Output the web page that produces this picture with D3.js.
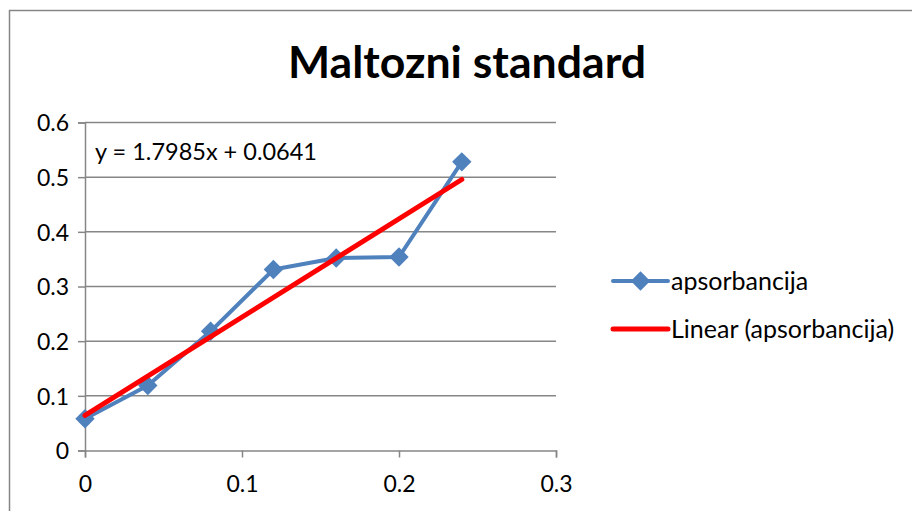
<!DOCTYPE html>
<html>
<head>
<meta charset="utf-8">
<script src="https://cdn.jsdelivr.net/npm/d3@7"></script>
<style>
  body { margin: 0; background: #ffffff; }
  text { font-family: Lato, "Open Sans", sans-serif; }
</style>
</head>
<body>
<div id="chart"></div>
<script>
//data
var concentration = [0, 0.04, 0.08, 0.12, 0.16, 0.2, 0.24];
var absorbance = [0.058, 0.119, 0.218, 0.331, 0.352, 0.354, 0.528];
var xTicks = [0, 0.1, 0.2, 0.3];
var yTicks = [0, 0.1, 0.2, 0.3, 0.4, 0.5, 0.6];
var trendSlope = 1.7985;
var trendIntercept = 0.0641;
var legendLabels = ["apsorbancija", "Linear (apsorbancija)"];

//colors
var blueColor = "#4F81BD";
var redColor = "#FF0000";
var gridColor = "#868686";

var w = 912;
var h = 511;

var svg = d3.select("#chart")
            .append("svg")
            .attr("width", w)
            .attr("height", h);

//outer chart border
svg.append("rect")
    .attr("x", 9.5)
    .attr("y", 10.5)
    .attr("width", 1000)
    .attr("height", 1000)
    .attr("fill", "#ffffff")
    .attr("stroke", "#868686")
    .attr("stroke-width", 1.5);

//title
svg.append("text")
    .attr("x", 467)
    .attr("y", 78)
    .attr("text-anchor", "middle")
    .attr("font-size", 44)
    .attr("font-weight", "bold")
    .attr("fill", "#000")
    .attr("textLength", 358)
    .attr("lengthAdjust", "spacingAndGlyphs")
    .text("Maltozni standard");

var x = d3.scaleLinear().domain([0, 0.3]).range([85, 556]);
var y = d3.scaleLinear().domain([0, 0.6]).range([450.5, 122.5]);

//horizontal gridlines
svg.append("g")
    .selectAll("line")
    .data(yTicks.filter(function(d) { return d > 0; }))
    .enter()
    .append("line")
    .attr("x1", x(0))
    .attr("x2", x(0.3))
    .attr("y1", function(d) { return y(d); })
    .attr("y2", function(d) { return y(d); })
    .attr("stroke", gridColor)
    .attr("stroke-width", 1.5);

//axes
var fmt = function(d) { return String(+d.toFixed(1)); };
var xAxis = svg.append("g")
    .attr("transform", "translate(0," + y(0) + ")")
    .call(d3.axisBottom(x).tickValues(xTicks).tickSize(7).tickPadding(18).tickFormat(fmt));
var yAxis = svg.append("g")
    .attr("transform", "translate(" + x(0) + ",0)")
    .call(d3.axisLeft(y).tickValues(yTicks).tickSize(7).tickPadding(9).tickFormat(fmt));

[xAxis, yAxis].forEach(function(ax) {
    ax.select(".domain").attr("stroke", gridColor).attr("stroke-width", 1.5);
    ax.selectAll(".tick line").attr("stroke", gridColor).attr("stroke-width", 1.5);
    ax.selectAll("text")
        .attr("font-family", "Lato, sans-serif")
        .attr("font-size", 23)
        .attr("fill", "#000");
});
yAxis.selectAll("text").attr("dy", "0.36em");

var points = concentration.map(function(c, i) { return [c, absorbance[i]]; });

//data series
var line = d3.line()
    .x(function(d) { return x(d[0]); })
    .y(function(d) { return y(d[1]); });

svg.append("path")
    .datum(points)
    .attr("d", line)
    .attr("fill", "none")
    .attr("stroke", blueColor)
    .attr("stroke-width", 4)
    .attr("stroke-linejoin", "round");

var diamond = d3.symbol().type(d3.symbolDiamond2).size(240);

svg.append("g")
    .selectAll("path")
    .data(points)
    .enter()
    .append("path")
    .attr("d", diamond)
    .attr("transform", function(d) { return "translate(" + x(d[0]) + "," + y(d[1]) + ")"; })
    .attr("fill", blueColor);

//linear trendline
var xMin = d3.min(concentration);
var xMax = d3.max(concentration);
svg.append("line")
    .attr("x1", x(xMin))
    .attr("y1", y(trendIntercept + trendSlope * xMin))
    .attr("x2", x(xMax))
    .attr("y2", y(trendIntercept + trendSlope * xMax))
    .attr("stroke", redColor)
    .attr("stroke-width", 5)
    .attr("stroke-linecap", "round");

//trendline equation
svg.append("text")
    .attr("x", 95)
    .attr("y", 160)
    .attr("font-size", 23.5)
    .attr("fill", "#000")
    .text("y = " + trendSlope + "x + " + trendIntercept);

//legend
var legend = svg.append("g").attr("transform", "translate(613,281)");

legend.append("line")
    .attr("x1", 0).attr("x2", 55)
    .attr("y1", 0).attr("y2", 0)
    .attr("stroke", blueColor)
    .attr("stroke-width", 4)
    .attr("stroke-linecap", "round");
legend.append("path")
    .attr("d", diamond)
    .attr("transform", "translate(27.5,0)")
    .attr("fill", blueColor);
legend.append("line")
    .attr("x1", 0).attr("x2", 55)
    .attr("y1", 48).attr("y2", 48)
    .attr("stroke", redColor)
    .attr("stroke-width", 5)
    .attr("stroke-linecap", "round");

legend.selectAll("text")
    .data(legendLabels)
    .enter()
    .append("text")
    .attr("x", 58)
    .attr("y", function(d, i) { return i * 48; })
    .attr("dy", "0.36em")
    .attr("font-size", 25)
    .attr("fill", "#000")
    .text(function(d) { return d; });
</script>
</body>
</html>
